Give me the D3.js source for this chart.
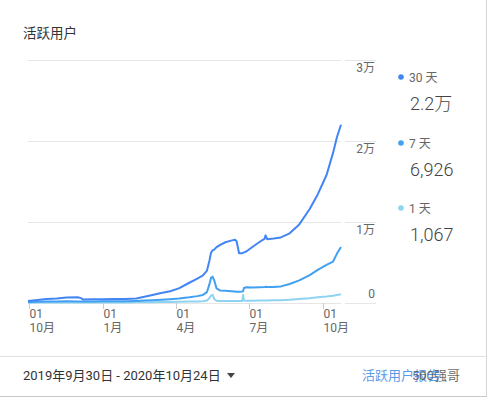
<!DOCTYPE html>
<html>
<head>
<meta charset="utf-8">
<script src="https://cdn.jsdelivr.net/npm/d3@7"></script>
<style>
    body { margin: 0; background: #fff; }
    svg text { font-family: Roboto, "Noto Sans CJK SC", sans-serif; }
</style>
</head>
<body>
<svg id="scene"></svg>
<script>
let dates = ['2019-09-30', '2019-10-12', '2019-10-23', '2019-11-05', '2019-11-17', '2019-12-01', '2019-12-05',
    '2019-12-08', '2019-12-20', '2020-01-01', '2020-01-15', '2020-01-29', '2020-02-12', '2020-02-22',
    '2020-03-03', '2020-03-14', '2020-03-25', '2020-04-05', '2020-04-18', '2020-04-28', '2020-05-05',
    '2020-05-10', '2020-05-13', '2020-05-15', '2020-05-17', '2020-05-19', '2020-05-22', '2020-05-26',
    '2020-06-02', '2020-06-09', '2020-06-14', '2020-06-16', '2020-06-19', '2020-06-23', '2020-06-24',
    '2020-06-25', '2020-06-28', '2020-07-06', '2020-07-14', '2020-07-21', '2020-07-22', '2020-07-24',
    '2020-08-01', '2020-08-10', '2020-08-21', '2020-09-02', '2020-09-15', '2020-09-25', '2020-10-06',
    '2020-10-14', '2020-10-19', '2020-10-24']

let users30 = [250, 380, 480, 560, 690, 700, 600,
    430, 450, 460, 480, 500, 560, 780,
    1000, 1230, 1450, 1800, 2500, 3000, 3400,
    4000, 5200, 6200, 6500, 6600, 6900, 7150,
    7500, 7700, 7800, 7600, 6150, 6150, 6200,
    6250, 6350, 6950, 7500, 7950, 8350, 7880,
    7950, 8100, 8600, 9700, 11600, 13400, 15800,
    18500, 20500, 22000]

let users7 = [120, 150, 180, 200, 210, 200, 190,
    180, 200, 210, 220, 230, 260, 300,
    340, 400, 470, 560, 700, 850, 1000,
    1350, 2300, 3100, 3250, 2800, 1800, 1550,
    1500, 1450, 1420, 1400, 1400, 1420, 1450,
    1850, 1950, 1900, 1950, 1980, 2000, 1970,
    1980, 2050, 2350, 2800, 3450, 4100, 4700,
    5100, 6100, 6926]

let users1 = [40, 50, 60, 60, 70, 60, 60,
    50, 60, 60, 70, 70, 80, 90,
    100, 110, 130, 150, 180, 200, 230,
    300, 600, 900, 1000, 500, 280, 250,
    250, 240, 240, 240, 250, 260, 1000,
    300, 280, 290, 300, 310, 320, 310,
    330, 350, 400, 500, 600, 700, 800,
    900, 1000, 1067]

let yTicks = [0, 10000, 20000, 30000]
let yTickLabels = ['0', '1万', '2万', '3万']
let xTicks = ['2019-10-01', '2020-01-01', '2020-04-01', '2020-07-01', '2020-10-01']
let xTickLabels = ['10月', '1月', '4月', '7月', '10月']

let seriesNames = ['30 天', '7 天', '1 天']
let seriesTotals = ['2.2万', '6,926', '1,067']
let colors = ['#4285f4', '#42a0f2', '#8ed3f0']

function init() {
    let width = 488,
        height = 397,
        svg = d3.select('#scene').attr('width', width).attr('height', height)
    let parse = d3.timeParse('%Y-%m-%d')

    let xScale = d3.scaleTime()
        .domain([parse('2019-09-30'), parse('2020-10-24')])
        .range([28, 341])
    let yScale = d3.scaleLinear().domain([0, 30000]).range([303, 60])

    // card edges
    svg.append('line').attr('x1', 486.5).attr('x2', 486.5).attr('y1', 0).attr('y2', 396)
        .attr('stroke', '#d6d6d6')
    svg.append('line').attr('x1', 0).attr('x2', 487).attr('y1', 396.5).attr('y2', 396.5)
        .attr('stroke', '#c8c8c8')

    svg.append('text')
        .text('活跃用户')
        .attr('x', 23)
        .attr('y', 38)
        .attr('font-size', '13.5px')
        .attr('fill', '#333')

    // grid
    svg.selectAll('line.grid')
        .data(yTicks)
        .enter()
        .append('line')
        .attr('class', 'grid')
        .attr('x1', 28).attr('x2', 341)
        .attr('y1', d => yScale(d) + 0.5).attr('y2', d => yScale(d) + 0.5)
        .attr('stroke', '#e6e6e6')
    svg.selectAll('line.grid2')
        .data(yTicks)
        .enter()
        .append('line')
        .attr('class', 'grid2')
        .attr('x1', 345).attr('x2', 376)
        .attr('y1', d => yScale(d) + 0.5).attr('y2', d => yScale(d) + 0.5)
        .attr('stroke', '#e6e6e6')

    svg.selectAll('text.ylab')
        .data(yTicks)
        .enter()
        .append('text')
        .attr('class', 'ylab')
        .text((d, i) => yTickLabels[i])
        .attr('x', 375)
        .attr('y', d => d === 0 ? yScale(d) - 5 : yScale(d) + 12)
        .attr('text-anchor', 'end')
        .attr('font-size', '12px')
        .attr('fill', '#666')

    // x ticks
    let tick = svg.selectAll('g.xtick')
        .data(xTicks)
        .enter()
        .append('g')
        .attr('class', 'xtick')
        .attr('transform', d => `translate(${Math.round(xScale(parse(d))) + 0.5}, 303)`)
    tick.append('line').attr('y1', 0).attr('y2', 6).attr('stroke', '#ccc')
    tick.append('text').text('01').attr('x', 0).attr('y', 15)
        .attr('font-size', '12px').attr('fill', '#666')
    tick.append('text').text((d, i) => xTickLabels[i]).attr('x', 0).attr('y', 29)
        .attr('font-size', '12px').attr('fill', '#666')

    // lines, smallest first
    let allSeries = [users30, users7, users1]
    let line = d3.line()
        .x((d, i) => xScale(parse(dates[i])))
        .y(d => yScale(d))
    ;[2, 1, 0].forEach(k => {
        svg.append('path')
            .datum(allSeries[k])
            .attr('d', line)
            .attr('fill', 'none')
            .attr('stroke', colors[k])
            .attr('stroke-width', 2)
            .attr('stroke-linejoin', 'round')
    })

    // legend
    let legend = svg.selectAll('g.legend')
        .data(seriesNames)
        .enter()
        .append('g')
        .attr('class', 'legend')
        .attr('transform', (d, i) => `translate(401, ${[77, 143, 208][i]})`)
    legend.append('circle').attr('r', 2.8).attr('fill', (d, i) => colors[i])
    legend.append('text').text(d => d).attr('x', 8).attr('y', 4.5)
        .attr('font-size', '12px').attr('fill', '#666')
    legend.append('text').text((d, i) => seriesTotals[i]).attr('x', 9).attr('y', 33)
        .attr('font-size', '18px').attr('font-weight', 300).attr('fill', '#444')

    // footer
    svg.append('line').attr('x1', 0).attr('x2', 487).attr('y1', 356.5).attr('y2', 356.5)
        .attr('stroke', '#e0e0e0')
    svg.append('text')
        .text('2019年9月30日 - 2020年10月24日')
        .attr('x', 23).attr('y', 380)
        .attr('font-size', '13px').attr('fill', '#333')
    svg.append('path').attr('d', 'M227,373 L235,373 L231,378 Z').attr('fill', '#444')
    svg.append('text')
        .text('活跃用户报告')
        .attr('x', 362).attr('y', 380)
        .attr('font-size', '13px').attr('fill', '#5b9be8')
    // watermark sitting over the link, as in the screenshot
    svg.append('text')
        .text('500强哥')
        .attr('x', 412).attr('y', 380)
        .attr('font-size', '13px').attr('fill', '#555').attr('opacity', 0.85)
}

onload = function () {
    init()
}
</script>
</body>
</html>
